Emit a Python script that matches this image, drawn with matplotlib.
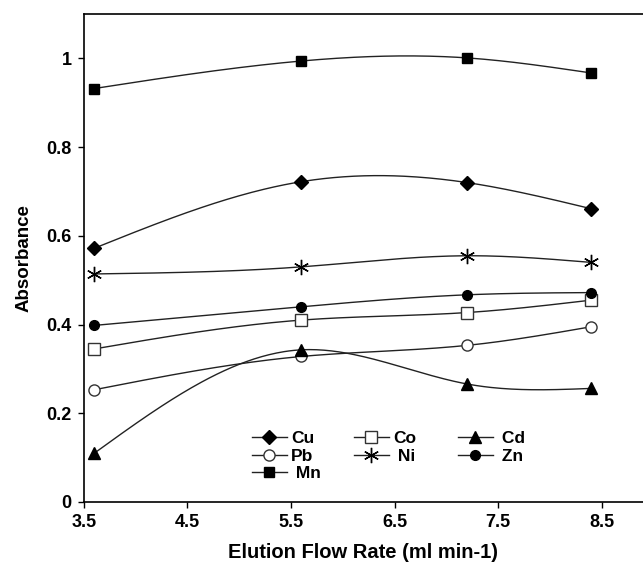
import numpy as np
import matplotlib.pyplot as plt

# ---------- data ----------
flow = [3.6, 5.6, 7.2, 8.4]
cu = [0.572, 0.722, 0.720, 0.661]
pb = [0.253, 0.328, 0.353, 0.395]
mn = [0.932, 0.994, 1.001, 0.967]
co = [0.345, 0.410, 0.427, 0.455]
ni = [0.514, 0.530, 0.555, 0.540]
cd = [0.110, 0.343, 0.266, 0.256]
zn = [0.398, 0.440, 0.467, 0.472]

xticks = [3.5, 4.5, 5.5, 6.5, 7.5, 8.5]
yticks = [0, 0.2, 0.4, 0.6, 0.8, 1.0]
yticklabels = ['0', '0.2', '0.4', '0.6', '0.8', '1']


def spline(x, y, n=200):
    # natural cubic spline, only used to draw the smooth connecting line
    x = np.asarray(x, float)
    y = np.asarray(y, float)
    k = len(x)
    h = np.diff(x)
    A = np.zeros((k, k))
    b = np.zeros(k)
    A[0, 0] = A[-1, -1] = 1
    for i in range(1, k - 1):
        A[i, i - 1] = h[i - 1]
        A[i, i] = 2 * (h[i - 1] + h[i])
        A[i, i + 1] = h[i]
        b[i] = 6 * ((y[i + 1] - y[i]) / h[i] - (y[i] - y[i - 1]) / h[i - 1])
    M = np.linalg.solve(A, b)
    xs = np.linspace(x[0], x[-1], n)
    j = np.clip(np.searchsorted(x, xs) - 1, 0, k - 2)
    t0 = x[j + 1] - xs
    t1 = xs - x[j]
    hj = h[j]
    ys = (M[j] * t0**3 + M[j + 1] * t1**3) / (6 * hj) \
        + (y[j] / hj - M[j] * hj / 6) * t0 + (y[j + 1] / hj - M[j + 1] * hj / 6) * t1
    return xs, ys


# ---------- style ----------
plt.rcParams['font.family'] = ['Liberation Sans', 'DejaVu Sans']
plt.rcParams['font.weight'] = 'bold'

fig = plt.figure(figsize=(6.43, 5.66), dpi=100)
ax = fig.add_axes([0.1306, 0.1131, 0.8694, 0.8622])

lc = '#222222'
series = [
    (cu, 'Cu', dict(marker='D', ms=7, mfc='black', mec='black')),
    (pb, 'Pb', dict(marker='o', ms=8, mfc='white', mec='#333333', mew=1.0)),
    (mn, ' Mn', dict(marker='s', ms=7, mfc='black', mec='black')),
    (co, 'Co', dict(marker='s', ms=8, mfc='white', mec='#333333', mew=1.0)),
    (ni, ' Ni  ', dict(marker=(6, 2, 0), ms=11, mfc='black', mec='black', mew=1.0)),
    (cd, ' Cd', dict(marker='^', ms=8.5, mfc='black', mec='black')),
    (zn, ' Zn', dict(marker='o', ms=7, mfc='black', mec='black')),
]

handles = []
for vals, label, mk in series:
    xs, ys = spline(flow, vals)
    ax.plot(xs, ys, color=lc, lw=1.0, zorder=2)
    ax.plot(flow, vals, ls='none', zorder=3, **mk)
    h, = ax.plot([], [], color=lc, lw=1.0, label=label, **mk)
    handles.append(h)

ax.set_xlim(3.5, 8.9)
ax.set_ylim(0, 1.1)
ax.set_xticks(xticks)
ax.set_xticklabels([f'{v:.1f}' for v in xticks])
ax.set_yticks(yticks)
ax.set_yticklabels(yticklabels)
ax.tick_params(direction='out', length=4, width=1, labelsize=13, pad=5)
ax.spines['right'].set_visible(False)
for s in ['left', 'bottom', 'top']:
    ax.spines[s].set_linewidth(1.2)

ax.set_xlabel('Elution Flow Rate (ml min-1)', fontsize=14.5, fontweight='bold', labelpad=8)
ax.set_ylabel('Absorbance', fontsize=13.5, fontweight='bold', labelpad=10)

ax.legend(handles=handles, ncol=3, loc='upper left',
          bbox_to_anchor=(0.392, 0.2390), bbox_transform=fig.transFigure,
          frameon=False, handlelength=2.0, handletextpad=0.25,
          columnspacing=1.9, labelspacing=0.15, borderpad=0, borderaxespad=0,
          prop={'weight': 'bold', 'size': 12.5})

fig.savefig('out.png', dpi=100, facecolor='white')
